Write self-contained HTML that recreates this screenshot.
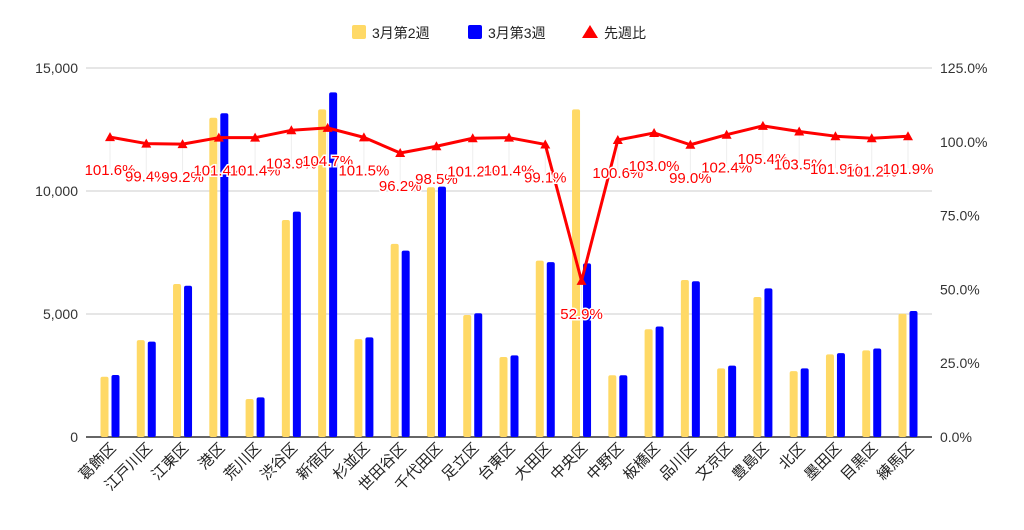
<!DOCTYPE html>
<html><head><meta charset="utf-8"><style>
body{margin:0;background:#fff;}
svg text{font-family:"Liberation Sans","Noto Sans CJK JP",sans-serif;}
</style></head><body>
<svg id="chart" width="1024" height="525" xmlns="http://www.w3.org/2000/svg">
<rect width="1024" height="525" fill="#fff"/>
<g id="legend">
<g><rect x="352" y="25" width="14" height="14" rx="2" fill="#ffd966"/><text x="372" y="38" font-size="14" fill="#222">3月第2週</text></g>
<g><rect x="468" y="25" width="14" height="14" rx="2" fill="#0000ff"/><text x="488" y="38" font-size="14" fill="#222">3月第3週</text></g>
<g><polygon points="590,25 598,38 582,38" fill="#ff0000"/><text x="604" y="38" font-size="14" fill="#222">先週比</text></g>
</g>
<g id="grid"></g><g id="bars"></g><g id="line"></g><g id="labels"></g><g id="xlabels"></g>
</svg>
<script>
const categories=["葛飾区","江戸川区","江東区","港区","荒川区","渋谷区","新宿区","杉並区","世田谷区","千代田区","足立区","台東区","大田区","中央区","中野区","板橋区","品川区","文京区","豊島区","北区","墨田区","目黒区","練馬区"];
const week2=[2450,3940,6220,12980,1545,8820,13320,3980,7850,10150,4960,3250,7170,13320,2510,4380,6380,2790,5690,2680,3360,3520,5010];
const week3=[2520,3875,6150,13160,1610,9160,14010,4050,7575,10180,5030,3320,7110,7060,2510,4490,6330,2900,6040,2790,3410,3600,5120];
const ratio=[101.6,99.4,99.2,101.4,101.4,103.9,104.7,101.5,96.2,98.5,101.2,101.4,99.1,52.9,100.6,103.0,99.0,102.4,105.4,103.5,101.9,101.2,101.9];
const leftTicks=[0,5000,10000,15000];
const rightTicks=[0,25,50,75,100,125];
const NS="http://www.w3.org/2000/svg";
const y0=437,yTop=68,x0=86,x1=932;
const yL=v=>y0-(v/15000)*(y0-yTop);
const yR=v=>y0-(v/125)*(y0-yTop);
const xC=i=>110+i*(908-110)/(categories.length-1);
function mk(tag,attrs,parent){const e=document.createElementNS(NS,tag);for(const k in attrs)e.setAttribute(k,attrs[k]);document.getElementById(parent).appendChild(e);return e;}
leftTicks.forEach(t=>{
 const l=mk('line',{x1:x0,x2:x1,y1:yL(t),y2:yL(t),stroke:t===0?'#333':'#ccc','stroke-width':t===0?1.5:1},'grid');
 
 
 const tx=mk('text',{x:78,y:yL(t)+5,'text-anchor':'end','font-size':14,fill:'#333'},'grid');
 tx.textContent=t.toLocaleString('en-US');
 
 
});
rightTicks.forEach(t=>{
 const tx=mk('text',{x:940,y:yR(t)+5,'font-size':14,fill:'#333'},'grid');
 tx.textContent=t.toFixed(1)+'%';
 
 
});
categories.forEach((c,i)=>{
 const cx=xC(i);
 const t=mk('line',{x1:cx,x2:cx,y1:yR(ratio[i]),y2:yR(ratio[i])+32,stroke:'#eee','stroke-width':1},'grid');
 
 
 const a=mk('rect',{x:cx-9.5,y:yL(week2[i]),width:8,height:y0-yL(week2[i]),rx:2,fill:'#ffd966'},'bars');
 
 
 const b=mk('rect',{x:cx+1.5,y:yL(week3[i]),width:8,height:y0-yL(week3[i]),rx:2,fill:'#0000ff'},'bars');
 
 
 const xl=mk('text',{x:cx+7,y:449,'text-anchor':'end','font-size':15,fill:'#222',transform:`rotate(-45 ${cx+7} 449)`},'xlabels');
 xl.textContent=c;
 
 
});
const pts=ratio.map((r,i)=>xC(i)+','+yR(r)).join(' ');
const pl=mk('polyline',{points:pts,fill:'none',stroke:'#ff0000','stroke-width':3,'stroke-linejoin':'round'},'line');


ratio.forEach((r,i)=>{
 const x=xC(i),y=yR(r);
 const m=mk('polygon',{points:`${x},${y-5} ${x+5},${y+4} ${x-5},${y+4}`,fill:'#ff0000'},'line');
 
 
 const lb=mk('text',{x:x,y:y+38,'text-anchor':'middle','font-size':15,fill:'#ff0000',stroke:'#fff','stroke-width':3,'paint-order':'stroke'},'labels');
 lb.textContent=r.toFixed(1)+'%';
 
 
});
</script>
</body></html>
